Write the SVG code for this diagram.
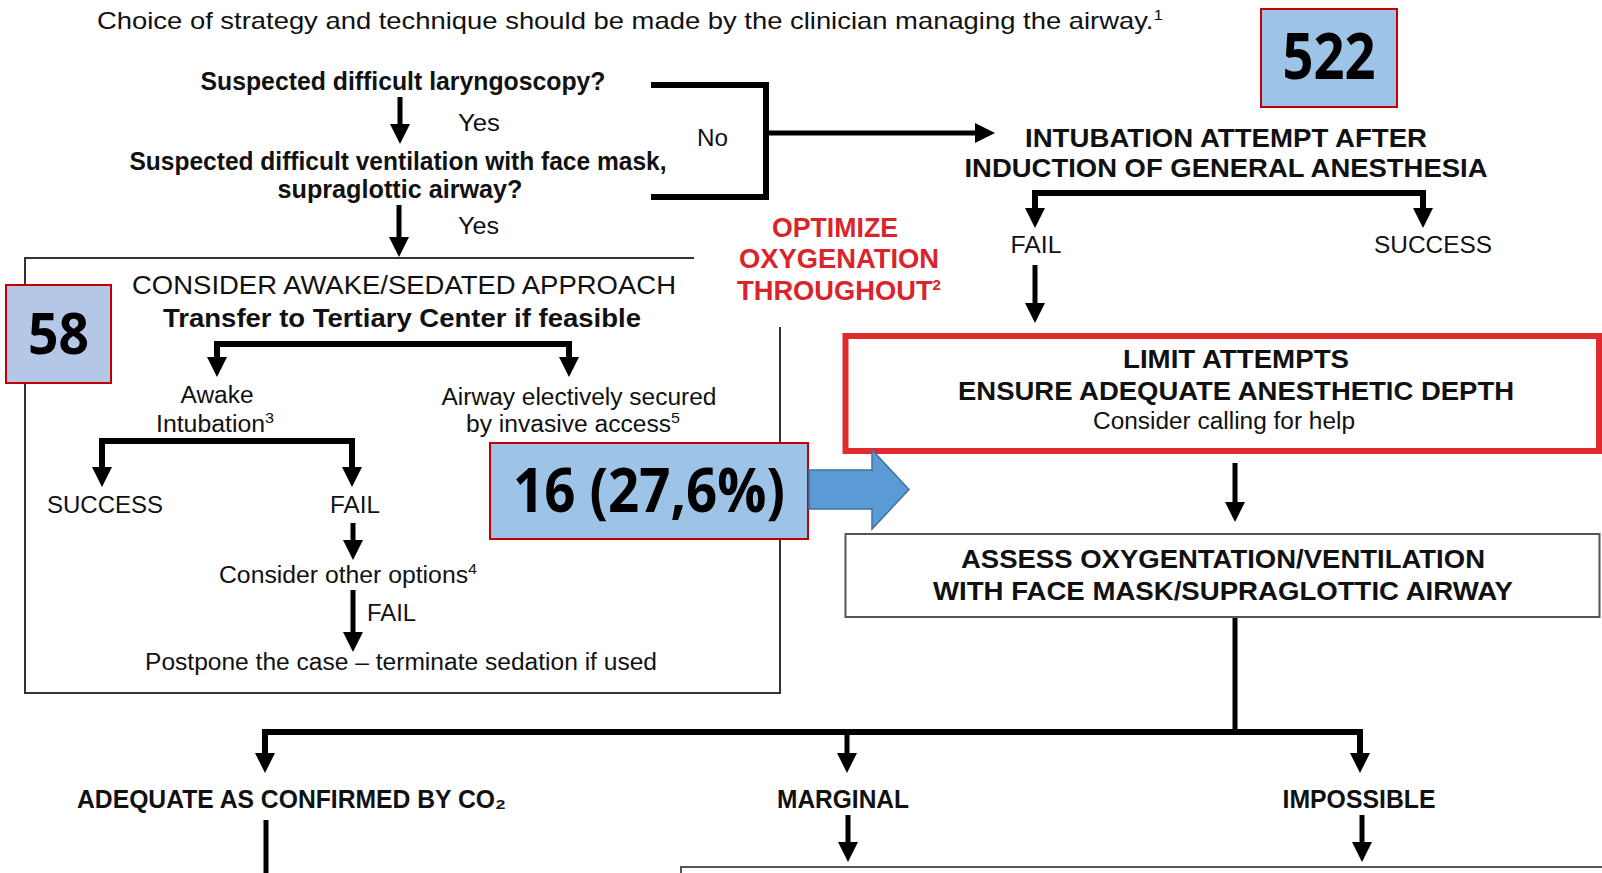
<svg xmlns="http://www.w3.org/2000/svg" width="1602" height="873" viewBox="0 0 1602 873">
<defs>
<style>
text{font-family:"Liberation Sans",Arial,sans-serif;fill:#111;}
.b{font-weight:bold;}
.m{text-anchor:middle;}
.r{fill:#d9242b;font-weight:bold;font-size:27px;text-anchor:middle;}
.num{font-family:"Open Sans","Noto Sans",sans-serif;font-weight:bold;fill:#000;text-anchor:middle;}
.ln{stroke:#000;stroke-width:5;fill:none;}
.ar{stroke:#000;stroke-width:5;fill:none;marker-end:url(#ah);}
.fk{stroke:#000;stroke-width:6;fill:none;marker-start:url(#ah);marker-end:url(#ah);}
.tag{stroke:#c00000;stroke-width:2;}
.sup{font-size:15px;}
</style>
<marker id="ah" viewBox="0 0 20 20" refX="8" refY="10" markerWidth="20" markerHeight="20" markerUnits="userSpaceOnUse" orient="auto-start-reverse"><path d="M0,0 L20,10 L0,20 z" fill="#000"/></marker>
</defs>
<rect width="1602" height="873" fill="#fff"/>

<g id="intro">
<text x="97" y="29" font-size="24" textLength="1066" lengthAdjust="spacingAndGlyphs">Choice of strategy and technique should be made by the clinician managing the airway.<tspan class="sup" dy="-9">1</tspan></text>
</g>

<g id="connectors">
<line class="ar" x1="400" y1="97" x2="400" y2="132"/>
<line class="ar" x1="399" y1="205" x2="399" y2="245"/>
<path d="M651,85 H766 V197 H651" stroke="#000" stroke-width="6" fill="none"/>
<line class="ar" x1="766" y1="133" x2="983" y2="133"/>
<path class="fk" d="M1035,216 V193 H1423 V216"/>
<line class="ar" x1="1035" y1="265" x2="1035" y2="311"/>
<line class="ar" x1="1235" y1="463" x2="1235" y2="510"/>
<line class="ln" x1="1235" y1="618" x2="1235" y2="732" stroke-width="6"/>
<path class="fk" d="M265,761 V732 H1360 V761"/>
<line class="ar" x1="847" y1="732" x2="847" y2="761"/>
<line class="ln" x1="266" y1="820" x2="266" y2="873"/>
<line class="ar" x1="848" y1="815" x2="848" y2="850"/>
<line class="ar" x1="1362" y1="815" x2="1362" y2="850"/>
<path class="fk" d="M217,365 V344 H569 V365"/>
<path class="fk" d="M102,475 V441 H352 V475"/>
<line class="ar" x1="353" y1="523" x2="353" y2="548"/>
<line class="ar" x1="353" y1="590" x2="353" y2="640"/>
</g>

<g id="q1">
<text class="b m" x="403" y="90" font-size="25" textLength="405" lengthAdjust="spacingAndGlyphs">Suspected difficult laryngoscopy?</text>
<text x="458" y="131" font-size="24" textLength="42" lengthAdjust="spacingAndGlyphs">Yes</text>
</g>
<g id="q2">
<text class="b m" x="398" y="170" font-size="25" textLength="537" lengthAdjust="spacingAndGlyphs">Suspected difficult ventilation with face mask,</text>
<text class="b m" x="400" y="198" font-size="25" textLength="245" lengthAdjust="spacingAndGlyphs">supraglottic airway?</text>
<text x="458" y="234" font-size="24" textLength="41" lengthAdjust="spacingAndGlyphs">Yes</text>
</g>
<g id="no-label">
<text x="697" y="146" font-size="24" textLength="31" lengthAdjust="spacingAndGlyphs">No</text>
</g>

<g id="intubation">
<text class="b m" x="1226" y="147" font-size="25" textLength="402" lengthAdjust="spacingAndGlyphs">INTUBATION ATTEMPT AFTER</text>
<text class="b m" x="1226" y="177" font-size="25" textLength="523" lengthAdjust="spacingAndGlyphs">INDUCTION OF GENERAL ANESTHESIA</text>
<text class="m" x="1036" y="253" font-size="24" textLength="51" lengthAdjust="spacingAndGlyphs">FAIL</text>
<text class="m" x="1433" y="253" font-size="24" textLength="118" lengthAdjust="spacingAndGlyphs">SUCCESS</text>
</g>

<g id="optimize">
<text class="r" x="835" y="237" textLength="126" lengthAdjust="spacingAndGlyphs">OPTIMIZE</text>
<text class="r" x="839" y="268" textLength="200" lengthAdjust="spacingAndGlyphs">OXYGENATION</text>
<text class="r" x="839" y="300" textLength="204" lengthAdjust="spacingAndGlyphs">THROUGHOUT<tspan class="sup" dy="-10">2</tspan></text>
</g>

<g id="awake-box">
<path d="M694,258 H25 V693 H780 V327" stroke="#333" stroke-width="2" fill="none"/>
<text class="m" x="404" y="294" font-size="25" textLength="544" lengthAdjust="spacingAndGlyphs">CONSIDER AWAKE/SEDATED APPROACH</text>
<text class="b m" x="402" y="327" font-size="25" textLength="478" lengthAdjust="spacingAndGlyphs">Transfer to Tertiary Center if feasible</text>
<text class="m" x="217" y="403" font-size="23" textLength="73" lengthAdjust="spacingAndGlyphs">Awake</text>
<text x="156" y="432" font-size="23" textLength="118" lengthAdjust="spacingAndGlyphs">Intubation<tspan class="sup" dy="-9">3</tspan></text>
<text class="m" x="579" y="405" font-size="23" textLength="275" lengthAdjust="spacingAndGlyphs">Airway electively secured</text>
<text x="466" y="432" font-size="23" textLength="214" lengthAdjust="spacingAndGlyphs">by invasive access<tspan class="sup" dy="-9">5</tspan></text>
<text class="m" x="105" y="513" font-size="24" textLength="116" lengthAdjust="spacingAndGlyphs">SUCCESS</text>
<text class="m" x="355" y="513" font-size="24" textLength="50" lengthAdjust="spacingAndGlyphs">FAIL</text>
<text x="219" y="583" font-size="23" textLength="258" lengthAdjust="spacingAndGlyphs">Consider other options<tspan class="sup" dy="-9">4</tspan></text>
<text x="367" y="621" font-size="24" textLength="49" lengthAdjust="spacingAndGlyphs">FAIL</text>
<text x="145" y="670" font-size="23" textLength="512" lengthAdjust="spacingAndGlyphs">Postpone the case – terminate sedation if used</text>
</g>

<g id="limit">
<rect x="845.5" y="336" width="753.5" height="115" fill="none" stroke="#df2a30" stroke-width="6"/>
<text class="b m" x="1236" y="368" font-size="26" textLength="226" lengthAdjust="spacingAndGlyphs">LIMIT ATTEMPTS</text>
<text class="b m" x="1236" y="400" font-size="26" textLength="556" lengthAdjust="spacingAndGlyphs">ENSURE ADEQUATE ANESTHETIC DEPTH</text>
<text class="m" x="1224" y="429" font-size="23" textLength="262" lengthAdjust="spacingAndGlyphs">Consider calling for help</text>
</g>

<g id="assess">
<rect x="845.5" y="534" width="754" height="83" fill="none" stroke="#555" stroke-width="2"/>
<text class="b m" x="1223" y="568" font-size="26" textLength="524" lengthAdjust="spacingAndGlyphs">ASSESS OXYGENTATION/VENTILATION</text>
<text class="b m" x="1223" y="600" font-size="26" textLength="580" lengthAdjust="spacingAndGlyphs">WITH FACE MASK/SUPRAGLOTTIC AIRWAY</text>
</g>

<g id="adequate">
<text class="b" x="77" y="808" font-size="25" textLength="429" lengthAdjust="spacingAndGlyphs">ADEQUATE AS CONFIRMED BY CO₂</text>
</g>
<g id="marginal">
<text class="b m" x="843" y="808" font-size="25" textLength="132" lengthAdjust="spacingAndGlyphs">MARGINAL</text>
</g>
<g id="impossible">
<text class="b m" x="1359" y="808" font-size="25" textLength="153" lengthAdjust="spacingAndGlyphs">IMPOSSIBLE</text>
</g>
<g id="next-box">
<rect x="681" y="867" width="930" height="30" fill="none" stroke="#555" stroke-width="2"/>
</g>

<g id="count-522">
<rect class="tag" x="1261" y="9" width="136" height="98" fill="#9dc3e6"/>
<text class="num" x="1329" y="79" font-size="65" textLength="93" lengthAdjust="spacingAndGlyphs">522</text>
</g>
<g id="count-58">
<rect class="tag" x="6" y="285" width="105" height="98" fill="#b4c7e7"/>
<text class="num" x="58.5" y="354" font-size="58" textLength="61" lengthAdjust="spacingAndGlyphs">58</text>
</g>
<g id="count-16">
<rect class="tag" x="490" y="443" width="318" height="96" fill="#9dc3e6"/>
<text class="num" x="649" y="512" font-size="61" textLength="272" lengthAdjust="spacingAndGlyphs">16 (27,6%)</text>
<path d="M809,470 H872 V450 L909,489.5 L872,529 V509 H809 z" fill="#5b9bd5" stroke="#41719c" stroke-width="1.5"/>
</g>
</svg>
